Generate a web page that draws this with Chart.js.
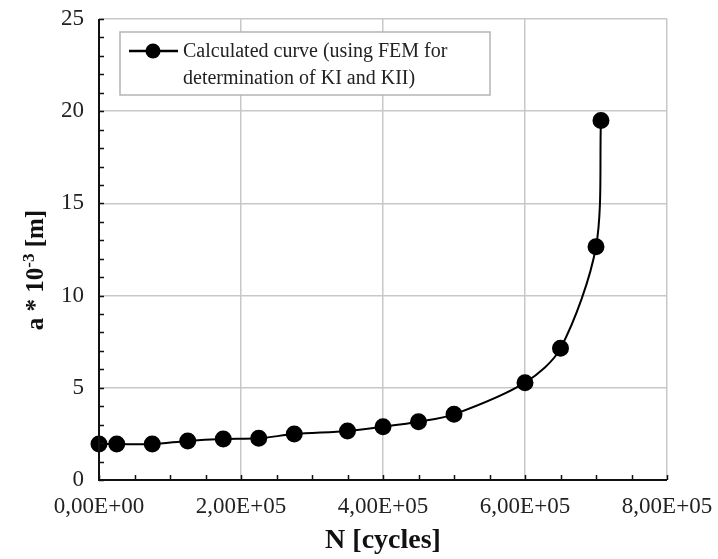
<!DOCTYPE html>
<html>
<head>
<meta charset="utf-8">
<script src="https://cdn.jsdelivr.net/npm/chart.js@4.4.1/dist/chart.umd.min.js"></script>
<style>
  html, body { margin: 0; padding: 0; background: #fff; }
  #wrap { width: 718px; height: 559px; }
</style>
</head>
<body>
<div id="wrap"><canvas id="crackChart" width="718" height="559"></canvas></div>
<script>
// cycles vs crack length
const cycles = [0, 25000, 75000, 125000, 175000, 225000, 275000, 350000, 400000, 450000, 500000, 600000, 650000, 700000, 707000];
const crackLen = [1.95, 1.95, 1.95, 2.12, 2.22, 2.26, 2.49, 2.66, 2.89, 3.16, 3.56, 5.28, 7.14, 12.65, 19.5];
const seriesLabel = ['Calculated curve (using FEM for', 'determination of KI and KII)'];
const xTitle = 'N [cycles]';
// y title pieces: base, superscript, rest
const yTitleParts = ['a * 10', '-3', ' [m]'];

const serif = '"Liberation Serif", "DejaVu Serif", serif';

// 2,00E+05 style
const sciLabel = function(v) {
    if (v === 0) return '0,00E+00';
    const exp = Math.floor(Math.log10(Math.abs(v)));
    const mant = (v / Math.pow(10, exp)).toFixed(2).replace('.', ',');
    return mant + 'E' + (exp < 0 ? '-' : '+') + String(Math.abs(exp)).padStart(2, '0');
}

// inward tick marks, major + minor
const innerTicks = {
    id: 'innerTicks',
    afterDatasetsDraw(chart) {
        const ctx = chart.ctx, area = chart.chartArea;
        const xs = chart.scales.x, ys = chart.scales.y;
        ctx.save();
        ctx.strokeStyle = '#111';
        ctx.lineWidth = 1.5;
        ctx.beginPath();
        for (let v = 0; v <= 25; v += 1) {
            const py = Math.round(ys.getPixelForValue(v)) + 0.5;
            ctx.moveTo(area.left, py);
            ctx.lineTo(area.left + 5, py);
        }
        for (let v = 0; v <= 800000; v += 50000) {
            const px = Math.round(xs.getPixelForValue(v)) + 0.5;
            ctx.moveTo(px, area.bottom);
            ctx.lineTo(px, area.bottom - 5);
        }
        ctx.stroke();
        // left and bottom axis lines
        ctx.lineWidth = 2;
        ctx.beginPath();
        ctx.moveTo(area.left, area.top);
        ctx.lineTo(area.left, area.bottom);
        ctx.lineTo(area.right, area.bottom);
        ctx.stroke();
        ctx.restore();
    }
};

// rotated y title with a real superscript
const yTitlePlugin = {
    id: 'yTitlePlugin',
    afterDraw(chart) {
        const ctx = chart.ctx;
        const bigFont = 'bold 25px ' + serif, supFont = 'bold 17px ' + serif;
        ctx.save();
        ctx.font = bigFont;
        const w0 = ctx.measureText(yTitleParts[0]).width;
        const w2 = ctx.measureText(yTitleParts[2]).width;
        ctx.font = supFont;
        const w1 = ctx.measureText(yTitleParts[1]).width;
        const total = w0 + w1 + w2;
        ctx.translate(43, 270);
        ctx.rotate(-Math.PI / 2);
        ctx.fillStyle = '#111';
        ctx.textBaseline = 'alphabetic';
        let x = -total / 2;
        ctx.font = bigFont;
        ctx.fillText(yTitleParts[0], x, 0);
        x += w0;
        ctx.font = supFont;
        ctx.fillText(yTitleParts[1], x, -9);
        x += w1;
        ctx.font = bigFont;
        ctx.fillText(yTitleParts[2], x, 0);
        ctx.restore();
    }
};

// boxed legend inside the plot
const boxLegend = {
    id: 'boxLegend',
    afterDraw(chart) {
        const ctx = chart.ctx, area = chart.chartArea;
        const left = area.left + 21, top = area.top + 13;
        const w = 370, h = 63;
        ctx.save();
        ctx.fillStyle = '#fff';
        ctx.fillRect(left, top, w, h);
        ctx.strokeStyle = '#b4b4b4';
        ctx.lineWidth = 1.5;
        ctx.strokeRect(left, top, w, h);
        const my = top + 19;
        ctx.strokeStyle = '#000';
        ctx.lineWidth = 2.5;
        ctx.beginPath();
        ctx.moveTo(left + 9, my);
        ctx.lineTo(left + 58, my);
        ctx.stroke();
        ctx.fillStyle = '#000';
        ctx.beginPath();
        ctx.arc(left + 33, my, 7.5, 0, Math.PI * 2);
        ctx.fill();
        ctx.font = '20px ' + serif;
        ctx.fillStyle = '#222';
        ctx.textBaseline = 'middle';
        ctx.fillText(seriesLabel[0], left + 63, my + 1);
        ctx.fillText(seriesLabel[1], left + 63, my + 28);
        ctx.restore();
    }
};

new Chart(document.getElementById('crackChart'), {
    type: 'line',
    data: {
        datasets: [{
            label: seriesLabel.join(' '),
            data: cycles.map(function(c, i) { return {x: c, y: crackLen[i]}; }),
            borderColor: '#000',
            backgroundColor: '#000',
            borderWidth: 2,
            pointRadius: 7.5,
            pointHoverRadius: 7.5,
            tension: 0.3,
            clip: false
        }]
    },
    options: {
        responsive: false,
        animation: false,
        events: [],
        layout: { padding: { top: 19, right: 51, left: 0, bottom: 0 } },
        plugins: { legend: { display: false }, tooltip: { enabled: false } },
        scales: {
            x: {
                type: 'linear',
                min: 0,
                max: 800000,
                border: { display: false },
                grid: { color: '#c8c8c8', lineWidth: 1.5, drawTicks: false },
                ticks: {
                    stepSize: 200000,
                    padding: 13,
                    color: '#222',
                    font: { family: serif, size: 23 },
                    maxRotation: 0,
                    autoSkip: false,
                    callback: function(v) { return sciLabel(v); }
                },
                title: {
                    display: true,
                    text: xTitle,
                    color: '#111',
                    font: { family: serif, size: 28, weight: 'bold' },
                    padding: { top: 0, bottom: 1 }
                },
                afterFit: function(scale) {
                    scale.height = 79;
                    scale.paddingLeft = 0;
                    scale.paddingRight = 0;
                }
            },
            y: {
                min: 0,
                max: 25,
                border: { display: false },
                grid: { color: '#c8c8c8', lineWidth: 1.5, drawTicks: false },
                ticks: {
                    stepSize: 5,
                    padding: 15,
                    color: '#222',
                    font: { family: serif, size: 23 }
                },
                afterFit: function(scale) {
                    scale.width = 99;
                    scale.paddingTop = 0;
                    scale.paddingBottom = 0;
                }
            }
        }
    },
    plugins: [innerTicks, yTitlePlugin, boxLegend]
});
</script>
</body>
</html>
